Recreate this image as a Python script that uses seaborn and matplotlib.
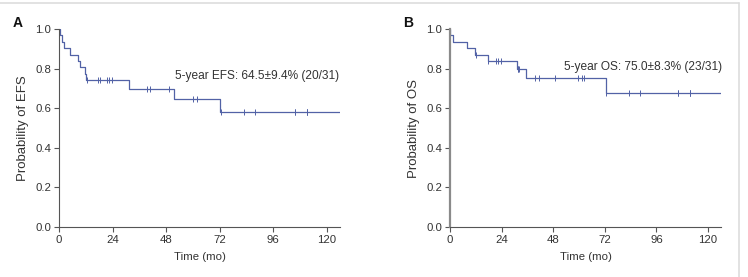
'''Kaplan-Meier curves for EFS (A) and OS (B)'''
import numpy as np
import pandas as pd
import seaborn as sns
import matplotlib
matplotlib.use('Agg')
import matplotlib.pyplot as plt
from matplotlib.lines import Line2D

#region data
# follow-up times (months) and status (1 = event, 0 = censored)
efs_time = [0.5, 1.2, 2.3, 5.0, 8.4, 9.3, 11.5, 12.0,
            12.4, 17.3, 18.2, 21.6, 22.5, 23.7,
            31.5, 39.3, 41.0, 49.3, 51.5, 59.9, 61.7,
            72.4, 72.6, 83.0, 88.0, 105.7, 105.7, 111.2, 111.2, 111.2, 130.0]
efs_event = [1, 1, 1, 1, 1, 1, 1, 1,
             0, 0, 0, 0, 0, 0,
             1, 0, 0, 0, 1, 0, 0,
             1, 0, 0, 0, 0, 0, 0, 0, 0, 0]

os_time = [0.1, 1.2, 8.0, 11.6, 12.1, 17.5, 17.8, 21.2, 22.3, 23.7,
           31.3, 31.5, 31.6, 32.0, 35.5, 39.4, 41.2, 49.0, 59.5, 61.5, 62.3,
           72.4, 72.6, 83.0, 88.2, 105.9, 105.9, 111.5, 111.5, 111.5, 130.0]
os_event = [1, 1, 1, 1, 0, 1, 0, 0, 0, 0,
            1, 0, 0, 0, 1, 0, 0, 0, 0, 0, 0,
            1, 0, 0, 0, 0, 0, 0, 0, 0, 0]

panel_labels = ['A', 'B']
y_labels = ['Probability of EFS', 'Probability of OS']
notes = ['5-year EFS: 64.5\u00b19.4% (20/31)', '5-year OS: 75.0\u00b18.3% (23/31)']
note_pos = [(52, 0.763), (53, 0.81)]
x_ticks = [0, 24, 48, 72, 96, 120]
y_ticks = [0.0, 0.2, 0.4, 0.6, 0.8, 1.0]
#endregion

LINE = '#5262a6'
TXT = '#333333'


def km(times, events):
    '''(list, list)->DataFrame, DataFrame
    step curve and censor marks for a Kaplan-Meier estimate'''
    df = pd.DataFrame({'t': times, 'e': events}).sort_values('t')
    n = len(df)
    s = 1.0
    curve = [(0.0, 1.0)]
    marks = []
    for t, g in df.groupby('t', sort=True):
        d = g['e'].sum()
        if d:
            s *= (1 - d / n)
            curve.append((t, s))
        for _ in range(int((g['e'] == 0).sum())):
            marks.append((t, s))
        n -= len(g)
    curve.append((df['t'].max(), s))
    return pd.DataFrame(curve, columns=['t', 's']), pd.DataFrame(marks, columns=['t', 's'])


sns.set_style('ticks')
plt.rcParams['font.family'] = ['Liberation Sans', 'DejaVu Sans']

fig = plt.figure(figsize=(7.48, 2.77), dpi=100)
axA = fig.add_axes([59 / 748, 50 / 277, 281 / 748, 198 / 277])
axB = fig.add_axes([450 / 748, 50 / 277, 271 / 748, 198 / 277])

data = [(efs_time, efs_event), (os_time, os_event)]
for i, ax in enumerate([axA, axB]):
    curve, marks = km(*data[i])
    sns.lineplot(data=curve, x='t', y='s', ax=ax, color=LINE, lw=0.9,
                 drawstyle='steps-post', estimator=None, sort=False)
    sns.scatterplot(data=marks, x='t', y='s', ax=ax, marker='|', s=16,
                    color=LINE, linewidth=0.7, zorder=3)
    ax.set_xlim(0, 126)
    ax.set_ylim(0, 1.0)
    ax.set_xticks(x_ticks)
    ax.set_yticks(y_ticks)
    ax.set_yticklabels(['%.1f' % v for v in y_ticks])
    ax.tick_params(labelsize=8.2, length=3.5, width=0.8, colors='#555555', labelcolor=TXT, pad=2)
    ax.set_xlabel('Time (mo)', fontsize=8.2, color=TXT, labelpad=5)
    ax.set_ylabel(y_labels[i], fontsize=9.5, color=TXT, labelpad=5)
    sns.despine(ax=ax)
    for sp in ['left', 'bottom']:
        ax.spines[sp].set_color('#555555')
        ax.spines[sp].set_linewidth(0.8)
    ax.text(note_pos[i][0], note_pos[i][1], notes[i], fontsize=8.6, color=TXT, va='center', ha='left')

axB.spines['left'].set_color('#8a8a8a')
axB.spines['left'].set_linewidth(1.6)

fig.text(18 / 748, 1 - 23 / 277, panel_labels[0], fontsize=10, fontweight='bold', ha='center', va='center', color='#111111')
fig.text(408 / 748, 1 - 23 / 277, panel_labels[1], fontsize=10, fontweight='bold', ha='center', va='center', color='#111111')

# light frame at top and right
fig.add_artist(Line2D([0, 738.5 / 748], [1 - 2.5 / 277, 1 - 2.5 / 277], color='#dddddd', lw=1.2, transform=fig.transFigure))
fig.add_artist(Line2D([738.5 / 748, 738.5 / 748], [0, 1 - 2.5 / 277], color='#dddddd', lw=1.2, transform=fig.transFigure))

fig.savefig('out.png', dpi=100)
